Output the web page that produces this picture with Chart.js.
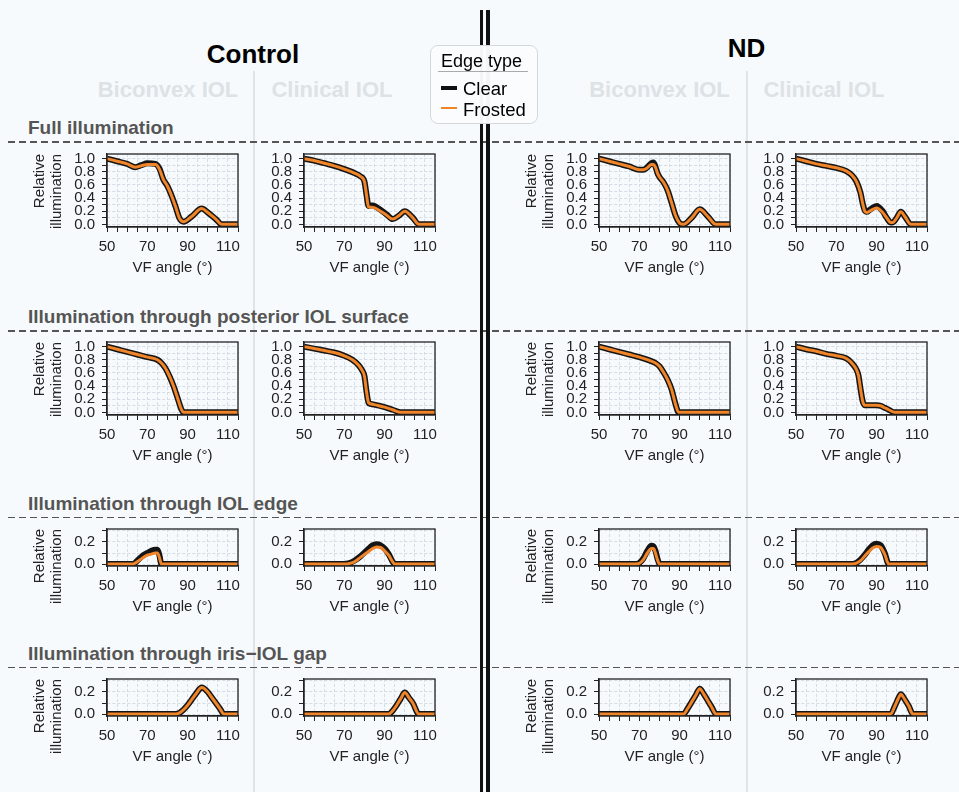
<!DOCTYPE html>
<html>
<head>
<meta charset="utf-8">
<script src="https://cdn.jsdelivr.net/npm/chart.js@4.4.1/dist/chart.umd.min.js"></script>
<style>
  html, body { margin: 0; padding: 0; }
  body {
    width: 959px; height: 792px; position: relative; overflow: hidden;
    background: #f7fafc;
    font-family: "Liberation Sans", Arial, Helvetica, sans-serif;
  }
  .abs { position: absolute; }
  canvas { position: absolute; }
  .group { font-weight: bold; font-size: 26px; line-height: 1; color: #000; transform: translateX(-50%); white-space: nowrap; }
  .lens { font-weight: bold; font-size: 22px; line-height: 1; color: #dde2e7; transform: translateX(-50%); white-space: nowrap; }
  .rowhead { font-weight: bold; font-size: 19px; line-height: 1; color: #555; white-space: nowrap; left: 28px; }
  .dash { left: 8px; width: 951px; height: 1.6px;
    background: repeating-linear-gradient(to right, #555 0 7px, transparent 7px 11px); }
  .vlight { width: 2px; top: 71px; height: 721px; background: #dfe4e9; }
  .vdark { width: 3.5px; top: 10px; height: 782px; background: #111; }
  .legend { left: 430px; top: 45px; width: 106px; height: 77px; border: 1px solid #d3d8dd;
    border-radius: 8px; background: rgba(251,252,253,0.97); }
  .legtext { font-size: 18.5px; line-height: 1; color: #000; white-space: nowrap; }
</style>
</head>
<body>

<!-- column separators -->
<div class="abs vlight" style="left:253px"></div>
<div class="abs vlight" style="left:745.5px"></div>

<!-- headers -->
<div class="abs group" style="left:253px; top:40.5px">Control</div>
<div class="abs group" style="left:746.5px; top:35px">ND</div>
<div class="abs lens" style="left:168px; top:79.4px">Biconvex IOL</div>
<div class="abs lens" style="left:332px; top:79.4px">Clinical IOL</div>
<div class="abs lens" style="left:659.5px; top:79.4px">Biconvex IOL</div>
<div class="abs lens" style="left:824px; top:79.4px">Clinical IOL</div>

<div class="abs rowhead" style="top:117.9px">Full illumination</div>
<div class="abs rowhead" style="top:306.6px">Illumination through posterior IOL surface</div>
<div class="abs rowhead" style="top:493.9px">Illumination through IOL edge</div>
<div class="abs rowhead" style="top:643.9px">Illumination through iris−IOL gap</div>

<div class="abs dash" style="top:141px"></div>
<div class="abs dash" style="top:330px"></div>
<div class="abs dash" style="top:516.5px"></div>
<div class="abs dash" style="top:666.5px"></div>

<div id="panels"></div>

<div class="abs vdark" style="left:479.5px"></div>
<div class="abs vdark" style="left:486px"></div>

<!-- legend -->
<div class="abs legend"></div>
<div class="abs legtext" style="left:441px; top:51.5px; font-size:18px">Edge type</div>
<div class="abs" style="left:438px; top:71px; width:90px; height:1px; background:#aaa"></div>
<div class="abs" style="left:441px; top:85.5px; width:16px; height:4px; background:#111"></div>
<div class="abs legtext" style="left:463px; top:79.8px">Clear</div>
<div class="abs" style="left:441px; top:106.5px; width:16px; height:2px; background:#f08428"></div>
<div class="abs legtext" style="left:463px; top:100.8px">Frosted</div>

<script>
// ---- data (VF angle in degrees, relative illumination) ----

// Full illumination
const fullCtrlBicAngle   = [50, 55, 60, 64, 67, 70, 74, 76, 78, 80, 82, 84, 86, 88, 92, 97, 100, 104, 107, 110, 115];
const fullCtrlBicClear   = [1.0, 0.96, 0.92, 0.87, 0.9, 0.93, 0.92, 0.85, 0.68, 0.58, 0.44, 0.27, 0.09, 0.04, 0.12, 0.24, 0.18, 0.08, 0.0, 0.0, 0.0];
const fullCtrlBicFrosted = [1.0, 0.96, 0.92, 0.87, 0.89, 0.91, 0.91, 0.84, 0.68, 0.58, 0.44, 0.27, 0.09, 0.04, 0.12, 0.24, 0.18, 0.08, 0.0, 0.0, 0.0];

const fullCtrlCliAngle   = [50, 55, 60, 65, 70, 75, 78, 80, 81, 82, 83, 85, 88, 91, 94, 97, 100, 104, 107, 110, 115];
const fullCtrlCliClear   = [1.0, 0.97, 0.93, 0.89, 0.84, 0.78, 0.73, 0.65, 0.45, 0.28, 0.29, 0.28, 0.22, 0.15, 0.08, 0.13, 0.2, 0.1, 0.0, 0.0, 0.0];
const fullCtrlCliFrosted = [1.0, 0.97, 0.93, 0.89, 0.84, 0.78, 0.73, 0.65, 0.45, 0.27, 0.26, 0.25, 0.2, 0.14, 0.08, 0.13, 0.2, 0.1, 0.0, 0.0, 0.0];

const fullNdBicAngle   = [50, 55, 60, 65, 70, 72, 74, 76, 77, 78, 79, 80, 82, 84, 86, 88, 90, 92, 96, 100, 104, 108, 112, 115];
const fullNdBicClear   = [1.0, 0.96, 0.92, 0.88, 0.83, 0.83, 0.87, 0.93, 0.94, 0.88, 0.78, 0.72, 0.64, 0.52, 0.33, 0.13, 0.02, 0.0, 0.1, 0.23, 0.12, 0.0, 0.0, 0.0];
const fullNdBicFrosted = [1.0, 0.96, 0.92, 0.88, 0.83, 0.83, 0.86, 0.91, 0.91, 0.87, 0.78, 0.72, 0.64, 0.52, 0.33, 0.13, 0.02, 0.0, 0.1, 0.23, 0.12, 0.0, 0.0, 0.0];

const fullNdCliAngle   = [50, 55, 60, 65, 70, 75, 78, 80, 82, 83, 84, 85, 87, 90, 93, 95, 97, 98, 100, 102, 104, 107, 110, 115];
const fullNdCliClear   = [1.0, 0.96, 0.92, 0.89, 0.86, 0.81, 0.74, 0.65, 0.48, 0.33, 0.22, 0.19, 0.23, 0.28, 0.2, 0.1, 0.03, 0.03, 0.1, 0.19, 0.12, 0.0, 0.0, 0.0];
const fullNdCliFrosted = [1.0, 0.96, 0.92, 0.89, 0.86, 0.81, 0.74, 0.65, 0.48, 0.33, 0.21, 0.18, 0.21, 0.25, 0.18, 0.1, 0.03, 0.03, 0.1, 0.19, 0.12, 0.0, 0.0, 0.0];

// Illumination through posterior IOL surface
const postCtrlBicAngle = [50, 55, 60, 65, 70, 75, 77, 79, 81, 83, 85, 87, 88, 95, 105, 115];
const postCtrlBicClear = [1.0, 0.96, 0.92, 0.88, 0.84, 0.8, 0.75, 0.67, 0.55, 0.4, 0.22, 0.04, 0.0, 0.0, 0.0, 0.0];
const postCtrlBicFrosted = [1.0, 0.96, 0.92, 0.88, 0.84, 0.8, 0.75, 0.67, 0.55, 0.4, 0.22, 0.04, 0.0, 0.0, 0.0, 0.0];

const postCtrlCliAngle = [50, 55, 60, 65, 70, 74, 77, 79, 80, 81, 82, 83, 86, 90, 94, 98, 105, 115];
const postCtrlCliClear = [1.0, 0.97, 0.94, 0.91, 0.86, 0.8, 0.72, 0.63, 0.55, 0.32, 0.15, 0.13, 0.11, 0.08, 0.04, 0.0, 0.0, 0.0];
const postCtrlCliFrosted = [1.0, 0.97, 0.94, 0.91, 0.86, 0.8, 0.72, 0.63, 0.55, 0.32, 0.15, 0.13, 0.11, 0.08, 0.04, 0.0, 0.0, 0.0];

const postNdBicAngle = [50, 55, 60, 65, 70, 75, 78, 80, 82, 84, 86, 88, 89.5, 95, 105, 115];
const postNdBicClear = [1.0, 0.96, 0.92, 0.88, 0.84, 0.79, 0.75, 0.7, 0.61, 0.5, 0.35, 0.12, 0.0, 0.0, 0.0, 0.0];
const postNdBicFrosted = [1.0, 0.96, 0.92, 0.88, 0.84, 0.79, 0.75, 0.7, 0.61, 0.5, 0.35, 0.12, 0.0, 0.0, 0.0, 0.0];

const postNdCliAngle = [50, 55, 60, 65, 70, 75, 78, 80, 81, 82, 83, 84, 86, 90, 92, 94, 96, 99, 105, 115];
const postNdCliClear = [1.0, 0.96, 0.93, 0.89, 0.86, 0.82, 0.74, 0.65, 0.56, 0.36, 0.18, 0.11, 0.11, 0.11, 0.1, 0.07, 0.04, 0.0, 0.0, 0.0];
const postNdCliFrosted = [1.0, 0.96, 0.93, 0.89, 0.86, 0.82, 0.74, 0.65, 0.56, 0.36, 0.18, 0.11, 0.11, 0.11, 0.1, 0.07, 0.04, 0.0, 0.0, 0.0];

// Illumination through IOL edge
const edgeCtrlBicAngle   = [50, 60, 63, 65, 68, 70, 72, 74, 75, 76, 77, 80, 90, 100, 115];
const edgeCtrlBicClear   = [0, 0, 0, 0.03, 0.08, 0.1, 0.12, 0.13, 0.13, 0.08, 0.0, 0, 0, 0, 0];
const edgeCtrlBicFrosted = [0, 0, 0, 0.02, 0.06, 0.08, 0.09, 0.1, 0.1, 0.06, 0.0, 0, 0, 0, 0];

const edgeCtrlCliAngle   = [50, 70, 72, 75, 78, 81, 84, 86, 88, 90, 92, 94, 95, 100, 115];
const edgeCtrlCliClear   = [0, 0, 0.005, 0.03, 0.07, 0.12, 0.17, 0.18, 0.17, 0.14, 0.09, 0.02, 0.0, 0, 0];
const edgeCtrlCliFrosted = [0, 0, 0.003, 0.02, 0.06, 0.1, 0.14, 0.155, 0.15, 0.12, 0.08, 0.02, 0.0, 0, 0];

const edgeNdBicAngle   = [50, 68, 70, 72, 74, 76, 77, 78, 79, 80, 90, 100, 115];
const edgeNdBicClear   = [0, 0, 0.01, 0.05, 0.12, 0.165, 0.16, 0.12, 0.05, 0.0, 0, 0, 0];
const edgeNdBicFrosted = [0, 0, 0.005, 0.04, 0.1, 0.14, 0.14, 0.1, 0.04, 0.0, 0, 0, 0];

const edgeNdCliAngle   = [50, 78, 80, 82, 84, 86, 88, 90, 92, 94, 96, 100, 115];
const edgeNdCliClear   = [0, 0, 0.01, 0.04, 0.08, 0.13, 0.17, 0.185, 0.17, 0.1, 0.0, 0, 0];
const edgeNdCliFrosted = [0, 0, 0.008, 0.03, 0.07, 0.11, 0.145, 0.16, 0.15, 0.09, 0.0, 0, 0];

// Illumination through iris-IOL gap
const gapCtrlBicAngle = [50, 84, 86, 88, 90, 92, 94, 97, 100, 102, 104, 106, 108, 115];
const gapCtrlBicClear = [0, 0, 0.01, 0.04, 0.08, 0.13, 0.18, 0.24, 0.2, 0.15, 0.1, 0.05, 0.0, 0];
const gapCtrlBicFrosted = [0, 0, 0.01, 0.04, 0.08, 0.13, 0.18, 0.24, 0.2, 0.15, 0.1, 0.05, 0.0, 0];

const gapCtrlCliAngle = [50, 92, 94, 96, 98, 100, 102, 104, 107, 115];
const gapCtrlCliClear = [0, 0, 0.03, 0.08, 0.14, 0.195, 0.15, 0.1, 0.0, 0];
const gapCtrlCliFrosted = [0, 0, 0.03, 0.08, 0.14, 0.195, 0.15, 0.1, 0.0, 0];

const gapNdBicAngle = [50, 92, 94, 96, 98, 100, 102, 104, 106, 108, 115];
const gapNdBicClear = [0, 0, 0.05, 0.11, 0.17, 0.23, 0.18, 0.12, 0.06, 0.0, 0];
const gapNdBicFrosted = [0, 0, 0.05, 0.11, 0.17, 0.23, 0.18, 0.12, 0.06, 0.0, 0];

const gapNdCliAngle = [50, 97, 99, 101, 102, 104, 106, 108, 115];
const gapNdCliClear = [0, 0, 0.07, 0.15, 0.18, 0.13, 0.07, 0.0, 0];
const gapNdCliFrosted = [0, 0, 0.07, 0.15, 0.18, 0.13, 0.07, 0.0, 0];

// ---- layout ----
const colLefts = [107, 304, 599, 796];
const rowTops = [154, 342, 529, 679];
const rowHeights = [73, 73, 37, 37];
const yRanges = [[-0.04, 1.07], [-0.04, 1.07], [-0.018, 0.318], [-0.018, 0.318]];
const PLOT_W = 131, Y_AXIS_W = 80, X_AXIS_H = 54, PAD_TOP = 24, PAD_RIGHT = 14;

const panels = [
  [fullCtrlBicAngle, fullCtrlBicClear, fullCtrlBicFrosted],
  [fullCtrlCliAngle, fullCtrlCliClear, fullCtrlCliFrosted],
  [fullNdBicAngle, fullNdBicClear, fullNdBicFrosted],
  [fullNdCliAngle, fullNdCliClear, fullNdCliFrosted],
  [postCtrlBicAngle, postCtrlBicClear, postCtrlBicFrosted],
  [postCtrlCliAngle, postCtrlCliClear, postCtrlCliFrosted],
  [postNdBicAngle, postNdBicClear, postNdBicFrosted],
  [postNdCliAngle, postNdCliClear, postNdCliFrosted],
  [edgeCtrlBicAngle, edgeCtrlBicClear, edgeCtrlBicFrosted],
  [edgeCtrlCliAngle, edgeCtrlCliClear, edgeCtrlCliFrosted],
  [edgeNdBicAngle, edgeNdBicClear, edgeNdBicFrosted],
  [edgeNdCliAngle, edgeNdCliClear, edgeNdCliFrosted],
  [gapCtrlBicAngle, gapCtrlBicClear, gapCtrlBicFrosted],
  [gapCtrlCliAngle, gapCtrlCliClear, gapCtrlCliFrosted],
  [gapNdBicAngle, gapNdBicClear, gapNdBicFrosted],
  [gapNdCliAngle, gapNdCliClear, gapNdCliFrosted],
];

Chart.defaults.font.family = '"Liberation Sans", Arial, Helvetica, sans-serif';
Chart.defaults.color = '#222';

// full box around the axes, like matplotlib spines
const framePlugin = {
  id: 'frame',
  afterDatasetsDraw(chart) {
    const {ctx, chartArea: a} = chart;
    ctx.save();
    ctx.strokeStyle = '#222';
    ctx.lineWidth = 1.3;
    ctx.strokeRect(a.left, a.top, a.right - a.left, a.bottom - a.top);
    ctx.restore();
  }
};

const toPoints = (xs, ys) => xs.map((x, i) => ({x: x, y: ys[i]}));
const holder = document.getElementById('panels');

panels.forEach(([angles, clear, frosted], idx) => {
  const row = Math.floor(idx / 4), col = idx % 4;
  const w = Y_AXIS_W + PLOT_W + PAD_RIGHT;
  const h = PAD_TOP + rowHeights[row] + X_AXIS_H;
  const cv = document.createElement('canvas');
  cv.width = w; cv.height = h;
  cv.style.left = (colLefts[col] - Y_AXIS_W) + 'px';
  cv.style.top = (rowTops[row] - PAD_TOP) + 'px';
  cv.style.width = w + 'px'; cv.style.height = h + 'px';
  holder.appendChild(cv);

  new Chart(cv.getContext('2d'), {
    type: 'line',
    data: {
      datasets: [
        {label: 'Clear', data: toPoints(angles, clear), borderColor: '#151515', borderWidth: 6,
         pointRadius: 0, cubicInterpolationMode: 'monotone', order: 1},
        {label: 'Frosted', data: toPoints(angles, frosted), borderColor: '#f08428', borderWidth: 3,
         pointRadius: 0, cubicInterpolationMode: 'monotone', order: 0}
      ]
    },
    options: {
      responsive: false,
      devicePixelRatio: 1,
      animation: false,
      layout: {padding: {top: PAD_TOP, right: PAD_RIGHT, left: 0, bottom: 0}},
      plugins: {legend: {display: false}, tooltip: {enabled: false}},
      scales: {
        x: {
          type: 'linear', min: 50, max: 115,
          afterFit: s => { s.height = X_AXIS_H; },
          ticks: {stepSize: 5, autoSkip: false, maxRotation: 0, minRotation: 0, padding: 6,
                  font: {size: 15}, color: '#222',
                  callback: v => ((v - 50) % 20 === 0 ? String(v) : '')},
          grid: {color: '#d5dce4', tickColor: '#222', tickLength: 5, tickWidth: 1},
          border: {display: true, color: '#222', width: 1.3, dash: [3, 2]},
          title: {display: true, text: 'VF angle (°)', font: {size: 15, lineHeight: 1.2},
                  color: '#222', padding: {top: 0, bottom: 4}}
        },
        y: {
          min: yRanges[row][0], max: yRanges[row][1],
          afterFit: s => { s.width = Y_AXIS_W; },
          ticks: {stepSize: 0.1, includeBounds: false, autoSkip: false, padding: 7,
                  font: {size: 15, lineHeight: 1}, color: '#222',
                  callback: v => (Math.round(v * 10) % 2 === 0 ? v.toFixed(1) : '')},
          grid: {color: '#d5dce4', tickColor: '#222', tickLength: 5, tickWidth: 1},
          border: {display: true, color: '#222', width: 1.3, dash: [3, 2]},
          title: {display: col === 0 || col === 2, text: ['Relative', 'illumination'], align: 'end',
                  font: {size: 15, lineHeight: 1.15}, color: '#222', padding: {top: 4, bottom: 0}}
        }
      }
    },
    plugins: [framePlugin]
  });
});
</script>
</body>
</html>
